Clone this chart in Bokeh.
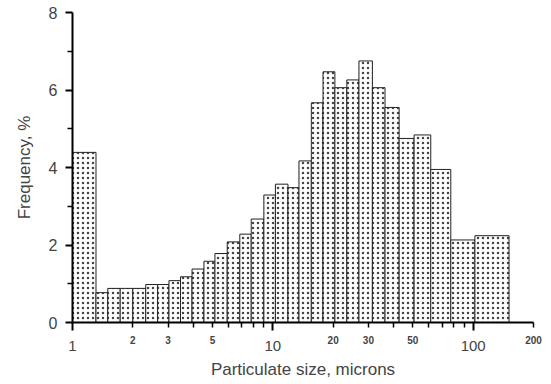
from bokeh.plotting import figure
from bokeh.models import FixedTicker, LogAxis, Range1d
from bokeh.embed import file_html
from bokeh.resources import INLINE

# bin edges (microns) and frequency (%)
bin_left = [1.0, 1.31, 1.50, 1.73, 2.00, 2.32, 2.66, 3.03, 3.46, 3.95, 4.53,
            5.14, 5.92, 6.84, 7.80, 9.02, 10.3, 11.9, 13.5, 15.56, 17.8,
            20.4, 23.4, 26.9, 31.4, 36.3, 42.7, 50.7, 61.4, 77.3, 102.0]
bin_right = bin_left[1:] + [151.0]
freq = [4.39, 0.77, 0.88, 0.88, 0.88, 0.98, 0.98, 1.08, 1.18, 1.38, 1.58,
        1.78, 2.08, 2.28, 2.67, 3.29, 3.57, 3.48, 4.17, 5.67, 6.47,
        6.06, 6.26, 6.75, 6.06, 5.55, 4.75, 4.84, 3.95, 2.13, 2.24]

x_major = [1, 10, 100]
x_minor = [2, 3, 4, 5, 6, 7, 8, 9, 20, 30, 40, 50, 60, 70, 80, 90, 200]
x_small_labels = [2, 3, 5, 20, 30, 50, 200]
y_major = [0, 2, 4, 6, 8]
y_minor = [1, 3, 5, 7]

FONT = "Liberation Sans"

p = figure(width=551, height=384, x_axis_type="log",
           x_range=Range1d(1, 200), y_range=Range1d(0, 8),
           output_backend="svg", toolbar_location=None,
           min_border_left=72, min_border_right=18,
           min_border_top=12, min_border_bottom=62)
p.outline_line_color = None
p.grid.visible = False
p.background_fill_color = "white"
p.border_fill_color = "white"

p.quad(left=bin_left, right=bin_right, top=freq, bottom=0,
       fill_color="white", line_color="#222222", line_width=1,
       hatch_pattern="dot", hatch_color="#444444", hatch_scale=5,
       hatch_weight=1)

# main x axis: line, ticks, large decade labels
xa = p.xaxis[0]
xa.ticker = FixedTicker(ticks=x_major, minor_ticks=x_minor)
xa.major_label_overrides = {1: "1", 10: "10", 100: "100"}
xa.axis_line_width = 2
xa.major_tick_line_width = 2
xa.minor_tick_line_width = 1.5
xa.major_tick_out = 8
xa.major_tick_in = 0
xa.minor_tick_out = 5
xa.minor_tick_in = 0
xa.major_label_text_font = FONT
xa.major_label_text_font_size = "15px"
xa.major_label_standoff = 10

# secondary axis: small intermediate labels (pulled up) and the axis title
xb = LogAxis()
xb.ticker = FixedTicker(ticks=x_small_labels, minor_ticks=[])
xb.major_label_overrides = {v: str(v) for v in x_small_labels}
xb.axis_line_color = None
xb.major_tick_line_color = None
xb.minor_tick_line_color = None
xb.major_tick_out = 0
xb.major_tick_in = 0
xb.major_label_text_font = FONT
xb.major_label_text_font_size = "10px"
xb.major_label_text_font_style = "bold"
xb.major_label_standoff = -18
xb.axis_label = "Particulate size, microns"
xb.axis_label_text_font = FONT
xb.axis_label_text_font_size = "17px"
xb.axis_label_text_font_style = "normal"
xb.axis_label_standoff = 13
p.add_layout(xb, "below")

ya = p.yaxis[0]
ya.ticker = FixedTicker(ticks=y_major, minor_ticks=y_minor)
ya.axis_line_width = 2
ya.major_tick_line_width = 2
ya.minor_tick_line_width = 1.5
ya.major_tick_out = 7
ya.major_tick_in = 0
ya.minor_tick_out = 5
ya.minor_tick_in = 0
ya.major_label_text_font = FONT
ya.major_label_text_font_size = "16px"
ya.major_label_standoff = 8
ya.axis_label = "Frequency, %"
ya.axis_label_text_font = FONT
ya.axis_label_text_font_size = "17px"
ya.axis_label_text_font_style = "normal"
ya.axis_label_standoff = 12

open("out.html", "w").write(file_html(p, INLINE))
